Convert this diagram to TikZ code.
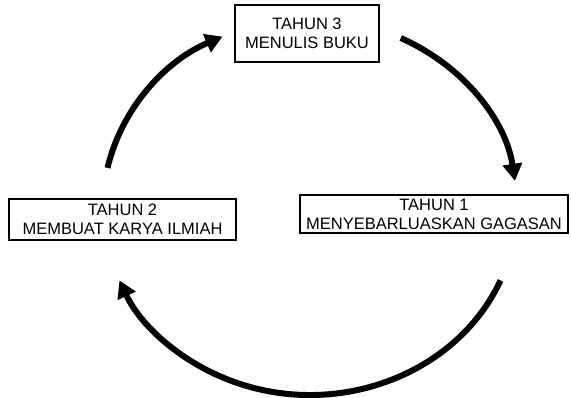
\documentclass[tikz,border=0pt]{standalone}
\usepackage{fontspec}
\setmainfont{Liberation Sans}
\usepackage{tikz}
\usetikzlibrary{arrows.meta}

\tikzset{
	tahun/.style={draw, line width=1.3pt, align=center, inner sep=0pt,
		font=\fontsize{16.5}{19}\selectfont},
	siklus/.style={line width=6pt, -{Triangle[length=17pt,width=19pt]}}
}

\begin{document}
\begin{tikzpicture}[x=1pt,y=1pt]
	\useasboundingbox (0,0) rectangle (571,-398);

	% the three years
	\node[tahun, minimum width=144, minimum height=57] (t3) at (307,-33.5) {TAHUN 3\\MENULIS BUKU};
	\node[tahun, minimum width=227, minimum height=41] (t2) at (122.5,-219.5) {TAHUN 2\\MEMBUAT KARYA ILMIAH};
	\node[tahun, minimum width=268, minimum height=38] (t1) at (434,-214) {TAHUN 1\\MENYEBARLUASKAN GAGASAN};

	% cycle round the middle
	\coordinate (pusat) at (310,-207);
	\draw[siklus] ([shift={(168:207 and 188)}]pusat) arc[start angle=168, end angle=115, x radius=207, y radius=188];
	\draw[siklus] ([shift={(64:207 and 188)}]pusat) arc[start angle=64, end angle=8, x radius=207, y radius=188];
	\draw[siklus] ([shift={(-23:207 and 188)}]pusat) arc[start angle=-23, end angle=-157, x radius=207, y radius=188];
\end{tikzpicture}
\end{document}
